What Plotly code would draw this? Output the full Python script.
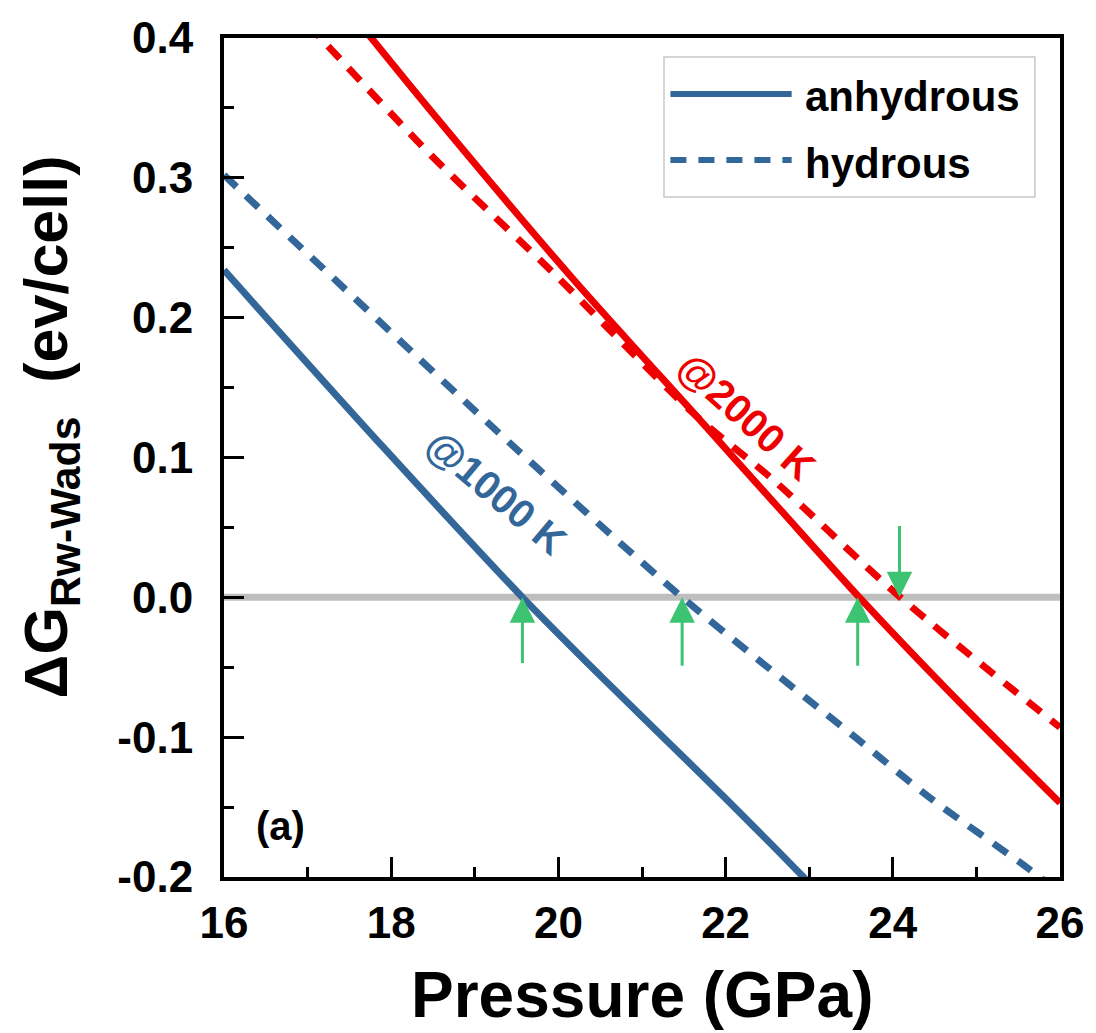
import plotly.graph_objects as go

# ---- data ----
p_anhy_1000 = [16.0, 17.91, 19.57, 20.5, 21.97, 22.93, 23.2]
g_anhy_1000 = [0.234, 0.107, 0.0, -0.056, -0.142, -0.200, -0.217]

p_hyd_1000 = [16.0, 19.39, 21.48, 23.57, 24.48, 25.6, 25.9]
g_hyd_1000 = [0.302, 0.112, 0.0, -0.101, -0.145, -0.193, -0.207]

p_anhy_2000 = [17.6, 18.5, 20.17, 21.66, 22.65, 23.6, 24.65, 26.0]
g_anhy_2000 = [0.412, 0.346, 0.228, 0.129, 0.063, 0.0, -0.066, -0.147]

p_hyd_2000 = [17.0, 18.48, 19.94, 20.65, 21.66, 22.57, 24.09, 26.0]
g_hyd_2000 = [0.41, 0.316, 0.232, 0.189, 0.129, 0.084, 0.0, -0.093]

arrow_p = [19.57, 21.48, 23.58, 24.08]
arrow_tail = [-0.048, -0.05, -0.05, 0.052]

x_ticks = [16, 18, 20, 22, 24, 26]
x_ticklabels = ["16", "18", "20", "22", "24", "26"]
y_ticks = [-0.2, -0.1, 0.0, 0.1, 0.2, 0.3, 0.4]
y_ticklabels = ["-0.2", "-0.1", "0.0", "0.1", "0.2", "0.3", "0.4"]

legend_labels = ["anhydrous", "hydrous"]
temp_labels = ["@1000 K", "@2000 K"]

BLUE = "#336699"
RED = "#EE0000"
GREEN = "#3CC473"
FONT = "Liberation Sans, Arial, sans-serif"
DASH = "17px,13px"

fig = go.Figure()

fig.add_trace(go.Scatter(x=p_anhy_1000, y=g_anhy_1000, mode="lines",
                         line=dict(color=BLUE, width=7, shape="spline", smoothing=0.8),
                         showlegend=False))
fig.add_trace(go.Scatter(x=p_hyd_1000, y=g_hyd_1000, mode="lines",
                         line=dict(color=BLUE, width=7, dash=DASH, shape="spline", smoothing=0.8),
                         showlegend=False))
fig.add_trace(go.Scatter(x=p_anhy_2000, y=g_anhy_2000, mode="lines",
                         line=dict(color=RED, width=7, shape="spline", smoothing=0.8),
                         showlegend=False))
fig.add_trace(go.Scatter(x=p_hyd_2000, y=g_hyd_2000, mode="lines",
                         line=dict(color=RED, width=7, dash=DASH, shape="spline", smoothing=0.8),
                         showlegend=False))

# zero reference line
fig.add_shape(type="line", xref="paper", x0=0, x1=1, yref="y", y0=0, y1=0,
              line=dict(color="#BEBEBE", width=7), layer="below")

# green arrows
for px, tail in zip(arrow_p, arrow_tail):
    fig.add_annotation(x=px, y=0, ax=px, ay=tail, xref="x", yref="y",
                       axref="x", ayref="y", showarrow=True, arrowhead=2,
                       arrowsize=1.7, arrowwidth=3, arrowcolor=GREEN,
                       standoff=0, text="")

# temperature labels
fig.add_annotation(x=19.25, y=0.075, xref="x", yref="y", text=temp_labels[0],
                   showarrow=False, textangle=40, xanchor="center", yanchor="middle",
                   font=dict(family=FONT, size=40, color=BLUE, weight="bold"))
fig.add_annotation(x=22.25, y=0.13, xref="x", yref="y", text=temp_labels[1],
                   showarrow=False, textangle=42, xanchor="center", yanchor="middle",
                   font=dict(family=FONT, size=40, color=RED, weight="bold"))

# (a) label
fig.add_annotation(x=0.068, y=0.0608, xref="paper", yref="paper", text="(a)",
                   showarrow=False, xanchor="center", yanchor="middle",
                   font=dict(family=FONT, size=40, color="black", weight="bold"))

# manual legend (box, samples, labels)
fig.add_shape(type="rect", xref="paper", yref="paper", x0=0.5263, x1=0.970,
              y0=0.8105, y1=0.9774, line=dict(color="#C8C8C8", width=1.5),
              fillcolor="white")
fig.add_shape(type="line", xref="paper", yref="paper", x0=0.534, x1=0.679,
              y0=0.9333, y1=0.9333, line=dict(color=BLUE, width=6))
fig.add_shape(type="line", xref="paper", yref="paper", x0=0.534, x1=0.679,
              y0=0.8546, y1=0.8546, line=dict(color=BLUE, width=6, dash="16px,12px"))
fig.add_annotation(x=0.6925, y=0.9297, xref="paper", yref="paper",
                   text=legend_labels[0], showarrow=False, xanchor="left", yanchor="middle",
                   font=dict(family=FONT, size=42, color="black", weight="bold"))
fig.add_annotation(x=0.6925, y=0.851, xref="paper", yref="paper",
                   text=legend_labels[1], showarrow=False, xanchor="left", yanchor="middle",
                   font=dict(family=FONT, size=42, color="black", weight="bold"))

# axis titles
fig.add_annotation(x=0.5, y=-0.1406, xref="paper", yref="paper",
                   text="Pressure (GPa)", showarrow=False,
                   xanchor="center", yanchor="middle",
                   font=dict(family=FONT, size=64, color="black", weight="bold"))
fig.add_annotation(x=-0.207, y=0.537, xref="paper", yref="paper",
                   text="ΔG<sub>Rw-Wads</sub>  (ev/cell)", showarrow=False,
                   textangle=-90, xanchor="center", yanchor="middle",
                   font=dict(family=FONT, size=61, color="black", weight="bold"))

axis_common = dict(showline=True, linecolor="black", linewidth=4, mirror=True,
                   showgrid=False, zeroline=False, ticks="inside",
                   ticklen=20, tickwidth=3, tickcolor="black",
                   tickfont=dict(family=FONT, size=44, color="black", weight="bold"))

fig.update_xaxes(range=[16, 26], tickvals=x_ticks, ticktext=x_ticklabels,
                 minor=dict(ticks="inside", ticklen=10, tickwidth=3,
                            tickcolor="black", dtick=1, tick0=16),
                 ticklabelstandoff=4,
                 **axis_common)
fig.update_yaxes(range=[-0.2, 0.4], tickvals=y_ticks, ticktext=y_ticklabels,
                 minor=dict(ticks="inside", ticklen=10, tickwidth=3,
                            tickcolor="black", dtick=0.05, tick0=0),
                 ticklabelstandoff=18,
                 **axis_common)

fig.update_layout(width=1088, height=1025,
                  margin=dict(l=216, r=36, t=30, b=156, autoexpand=False),
                  plot_bgcolor="white", paper_bgcolor="white",
                  showlegend=False)

fig.write_html("out.html")
